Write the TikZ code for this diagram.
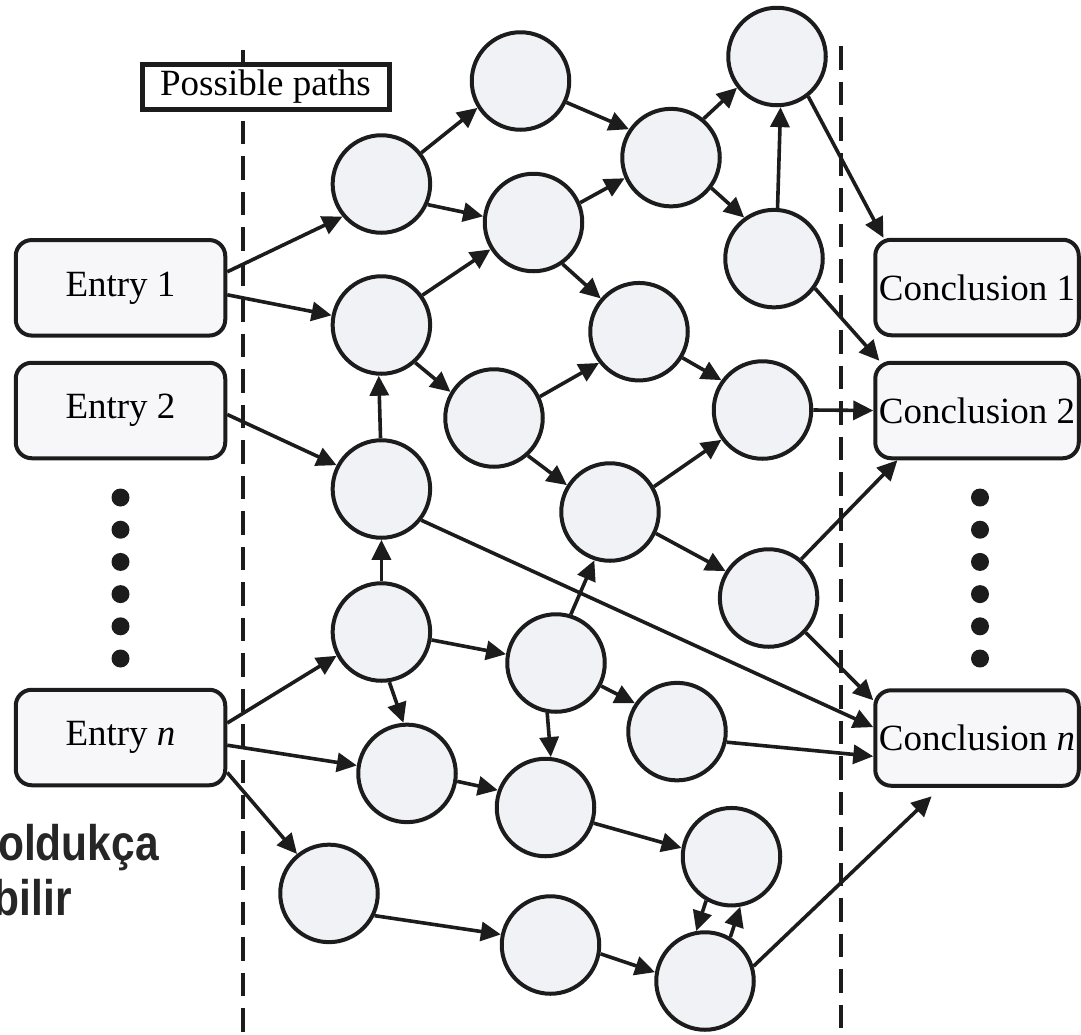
\documentclass[tikz,border=0pt]{standalone}
\usepackage{fontspec}
\setmainfont{Liberation Serif}
\newfontfamily\trfont[FakeStretch=0.85]{Liberation Sans}
\usetikzlibrary{arrows.meta}
\definecolor{ink}{HTML}{1C1C1C}
\definecolor{circfill}{HTML}{F1F2F6}
\definecolor{boxfill}{HTML}{F7F7F9}
\definecolor{trtext}{HTML}{262626}
\begin{document}
\begin{tikzpicture}[x=1pt,y=-1pt,
  pathnode/.style={circle, draw=ink, fill=circfill, line width=4pt, minimum size=97.5pt, inner sep=0pt},
  endbox/.style={rectangle, rounded corners=16pt, draw=ink, fill=boxfill, line width=4pt, minimum height=95.5pt, inner sep=0pt, font=\fontsize{37}{44}\selectfont},
  conn/.style={draw=ink, line width=3.6pt, -{Triangle[length=20pt,width=19pt]}},
  divider/.style={draw=ink, line width=4.5pt, dash pattern=on 23.5pt off 12pt},
  dotmark/.style={circle, fill=ink, minimum size=18pt, inner sep=0pt},
  trlabel/.style={anchor=base east, inner sep=0pt, text=trtext, font=\trfont\bfseries\fontsize{50}{50}\selectfont}
]
\useasboundingbox (0,0) rectangle (1081,1034);
% dividers
\coordinate (dlt) at (242.8,49.8);
\coordinate (dlb) at (242.8,1040);
\coordinate (drt) at (841.2,46.4);
\coordinate (drb) at (841.2,1040);
\draw[divider] (dlt) -- (dlb);
\draw[divider] (drt) -- (drb);
\node[draw=ink, line width=5pt, fill=white, minimum width=247pt, minimum height=45pt, inner sep=0pt, font=\fontsize{37}{44}\selectfont] (pp) at (265.5,86.7) {Possible paths};
% entries and conclusions
\node[endbox, minimum width=209.5pt] (e1) at (120.5,287.8) {Entry 1};
\node[endbox, minimum width=209.5pt] (e2) at (120.5,410.5) {Entry 2};
\node[endbox, minimum width=209.5pt] (en) at (120.5,737.5) {Entry \textit{n}};
\node[endbox, minimum width=203.5pt] (c1) at (977,287.5) {Conclusion 1};
\node[endbox, minimum width=203.5pt] (c2) at (977,410.5) {Conclusion 2};
\node[endbox, minimum width=203.5pt] (cn) at (977,738) {Conclusion \textit{n}};
% dots
\foreach \k in {0,...,5} {
  \node[dotmark] (ld\k) at (120.5,497.5+32.2*\k) {};
  \node[dotmark] (rd\k) at (980,497.5+32.2*\k) {};
}
% path nodes
\node[pathnode] (A) at (381.4,184) {};
\node[pathnode] (B) at (520.5,81) {};
\node[pathnode] (C) at (533.5,222.5) {};
\node[pathnode] (D) at (671,157.6) {};
\node[pathnode] (E) at (777,56.5) {};
\node[pathnode] (F) at (774,258.6) {};
\node[pathnode] (G) at (381.4,325) {};
\node[pathnode] (H) at (639,331.7) {};
\node[pathnode] (I) at (494,418) {};
\node[pathnode] (J) at (762.5,410) {};
\node[pathnode] (K) at (381.4,489) {};
\node[pathnode] (L) at (610,512) {};
\node[pathnode] (M) at (768.6,598) {};
\node[pathnode] (N) at (381.4,632) {};
\node[pathnode] (O) at (556,663) {};
\node[pathnode] (P) at (677,731.6) {};
\node[pathnode] (Q) at (407,773.4) {};
\node[pathnode] (R) at (545.5,807.5) {};
\node[pathnode] (S) at (329,893.4) {};
\node[pathnode] (T) at (731.5,856.7) {};
\node[pathnode] (U) at (550.5,945) {};
\node[pathnode] (V) at (705,981) {};
\coordinate (cnTip) at (931.6,796.3);
% connectors
\draw[conn] ([yshift=16pt]e1.east) -- (A.220);
\draw[conn] ([yshift=-7pt]e1.east) -- (G.169);
\draw[conn] ([yshift=-4pt]e2.east) -- (K.152);
\draw[conn] ([yshift=14.5pt]en.east) -- (N.208);
\draw[conn] ([yshift=-7.7pt]en.east) -- (Q.171);
\draw[conn] ([yshift=-35pt]en.east) -- (S.129);
\draw[conn] (A.38) -- (B.212);
\draw[conn] (A.-24) -- (C.173);
\draw[conn] (G.36) -- (C.212);
\draw[conn] (G.-48) -- (I.149);
\draw[conn] (K.91) -- (G.267);
\draw[conn] (B.-25) -- (D.146);
\draw[conn] (C.23) -- (D.204);
\draw[conn] (C.-55) -- (H.139);
\draw[conn] (D.50) -- (E.218);
\draw[conn] (D.-37) -- (F.126);
\draw[conn] (F.86) -- (E.274);
\draw[conn] (E.-52) -- (c1.152);
\draw[conn] (F.-36) -- (c2.153);
\draw[conn] (I.25) -- (H.218);
\draw[conn] (I.-48) -- (L.148);
\draw[conn] (H.-31) -- (J.144);
\draw[conn] (J.0) -- (c2.180);
\draw[conn] (L.30) -- (J.216);
\draw[conn] (L.-25) -- (M.148);
\draw[conn] (K.-38) -- (cn.174);
\draw[conn] (M.50) -- (c2.212);
\draw[conn] (M.-43) -- (cn.160);
\draw[conn] (N.90) -- (K.270);
\draw[conn] (N.-9) -- (O.170);
\draw[conn] (N.-81) -- (Q.94);
\draw[conn] (O.73) -- (L.252);
\draw[conn] (O.-27) -- (P.146);
\draw[conn] (O.260) -- (R.84);
\draw[conn] (P.-12) -- (cn.190);
\draw[conn] (Q.-9) -- (R.160);
\draw[conn] (R.-18) -- (T.170);
\draw[conn] (S.-26) -- (U.168);
\draw[conn] (T.240) -- (V.100);
\draw[conn] (V.60) -- (T.280);
\draw[conn] (U.-10) -- (V.170);
\draw[conn] (V.17) -- (cnTip);
% side text
\node[trlabel] (t1) at (159,860.7) {oldukça};
\node[trlabel] (t2) at (72,915) {bilir};
\end{tikzpicture}
\end{document}
